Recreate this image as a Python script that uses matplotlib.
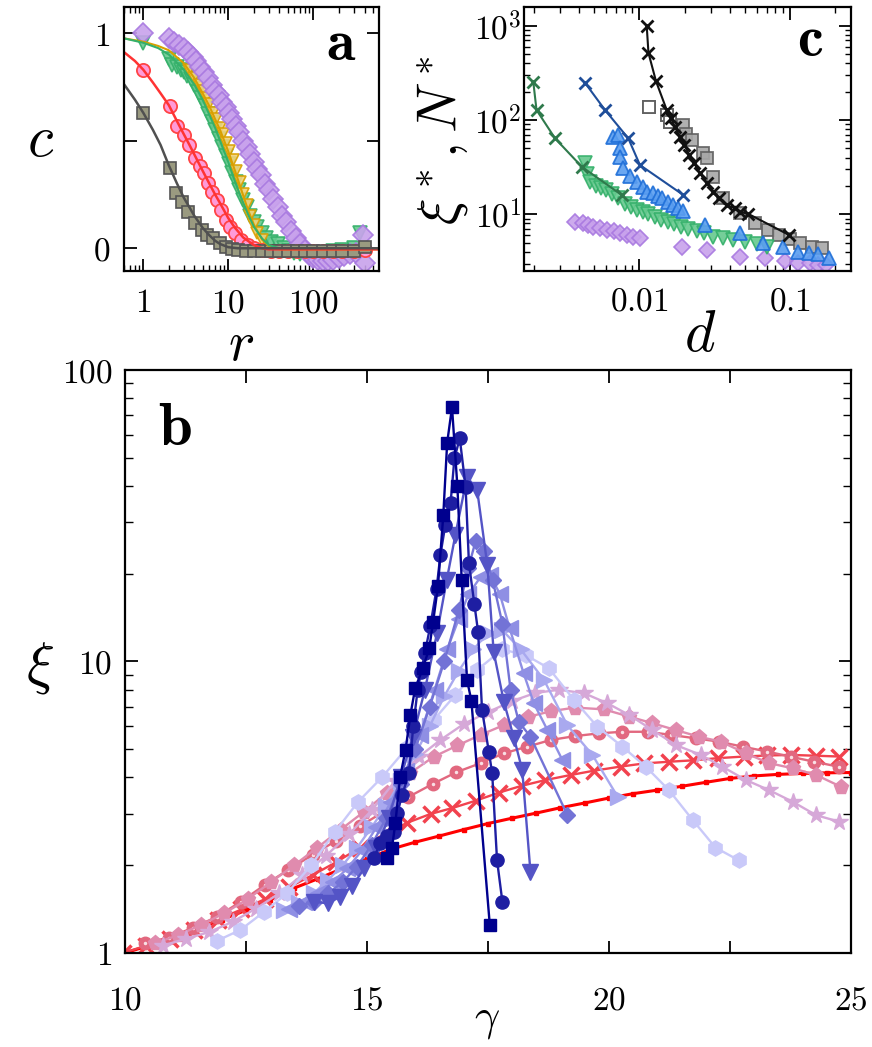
import matplotlib
matplotlib.use('Agg')
import matplotlib.pyplot as plt
from matplotlib.ticker import NullFormatter, LogLocator

plt.rcParams['mathtext.fontset'] = 'cm'
plt.rcParams['font.family'] = ['DejaVu Serif']

# ---------------- Panel a data ----------------
a_sq_r = [1, 2.06, 2.4, 2.88, 3.39, 4.07, 4.86, 5.57, 6.66, 7.96, 9.5, 11, 13, 16, 20, 25, 32, 40, 50, 65, 80, 100, 130, 170, 220, 300, 400]
a_sq_c = [0.628, 0.372, 0.256, 0.217, 0.17, 0.116, 0.085, 0.062, 0.046, 0.023, 0.007, -0.005, -0.01, -0.012, -0.012, -0.012, -0.012, -0.012, -0.012, -0.012, -0.012, -0.012, -0.012, -0.012, -0.012, -0.012, 0.007]
a_sqfit_r = [0.6, 0.8, 1, 1.3, 1.6, 2, 2.5, 3, 3.5, 4, 5, 6, 7, 8, 10, 13, 20, 50, 600]
a_sqfit_c = [0.76, 0.69, 0.63, 0.55, 0.48, 0.385, 0.3, 0.235, 0.19, 0.15, 0.095, 0.06, 0.035, 0.02, 0.005, 0.0, 0.0, 0.0, 0.0]

a_ci_r = [1, 2.06, 2.47, 2.99, 3.47, 4.1, 4.6, 5.17, 5.8, 6.5, 7.3, 8.2, 9.5, 10.5, 12, 14, 17, 20, 25, 32, 40, 50, 65, 80, 100, 130, 170, 220, 300, 400]
a_ci_c = [0.829, 0.659, 0.566, 0.527, 0.48, 0.42, 0.38, 0.349, 0.302, 0.26, 0.225, 0.18, 0.132, 0.1, 0.07, 0.04, 0.015, 0.0, -0.01, -0.015, -0.015, -0.015, -0.015, -0.015, -0.015, -0.015, -0.015, -0.015, -0.015, -0.01]
a_cifit_r = [0.6, 0.8, 1, 1.3, 1.6, 2, 2.5, 3, 3.5, 4, 5, 6, 7, 8, 10, 12, 15, 20, 25, 30, 600]
a_cifit_c = [0.91, 0.87, 0.83, 0.77, 0.72, 0.665, 0.59, 0.53, 0.48, 0.435, 0.36, 0.3, 0.25, 0.21, 0.14, 0.095, 0.05, 0.015, 0.0, -0.005, -0.005]

a_gr_r = [1, 2.0, 2.2, 2.5, 2.8, 3.0, 3.3, 3.6, 4.0, 4.4, 4.8, 5.3, 5.8, 6.4, 7, 7.7, 8.5, 9.3, 10.2, 11.2, 12.3, 13.5, 15, 16.5, 18, 20, 22, 25, 28, 32, 38, 45, 52, 60, 70, 85, 100, 130, 170, 220, 300, 354]
a_gr_c = [0.955, 0.88, 0.853, 0.84, 0.83, 0.82, 0.8, 0.785, 0.76, 0.725, 0.7, 0.66, 0.625, 0.585, 0.55, 0.51, 0.47, 0.43, 0.39, 0.35, 0.31, 0.27, 0.225, 0.19, 0.15, 0.12, 0.1, 0.07, 0.05, 0.03, 0.02, 0.0, -0.015, -0.023, -0.025, -0.025, -0.025, -0.02, -0.015, -0.01, 0.0, 0.07]
a_grfit_r = [0.6, 1, 1.5, 2, 3, 4, 5, 6, 7, 8, 10, 12, 14, 17, 20, 25, 30, 40, 600]
a_grfit_c = [0.975, 0.955, 0.93, 0.9, 0.83, 0.76, 0.69, 0.62, 0.56, 0.5, 0.4, 0.31, 0.24, 0.16, 0.1, 0.045, 0.015, 0.0, 0.0]

a_go_r = [3.5, 4, 4.5, 5, 5.5, 6, 6.6, 7.2, 7.9, 8.6, 9.4, 10.3, 11.3, 12.4, 13.6, 15, 16.5, 18, 20, 22, 25]
a_go_c = [0.83, 0.79, 0.76, 0.73, 0.7, 0.67, 0.63, 0.6, 0.56, 0.53, 0.49, 0.45, 0.41, 0.36, 0.31, 0.25, 0.2, 0.15, 0.11, 0.07, 0.04]
a_gofit_r = [0.6, 1, 1.5, 2, 3, 4, 5, 6, 7, 8, 10, 12, 14, 17, 20, 25, 30, 40, 600]
a_gofit_c = [0.975, 0.96, 0.94, 0.92, 0.86, 0.79, 0.72, 0.66, 0.6, 0.55, 0.45, 0.36, 0.28, 0.18, 0.11, 0.04, 0.01, -0.005, -0.005]

a_pu_r = [1, 2, 2.3, 2.6, 3, 3.4, 3.8, 4.2, 4.7, 5.2, 5.8, 6.4, 7, 7.7, 8.5, 9.3, 10.2, 11.2, 12.3, 13.5, 15, 16.5, 18, 20, 22, 24, 27, 30, 34, 38, 43, 48, 55, 62, 70, 80, 90, 100, 115, 130, 150, 170, 200, 230, 270, 320, 380, 400]
a_pu_c = [1.0, 0.975, 0.96, 0.945, 0.93, 0.91, 0.89, 0.87, 0.84, 0.82, 0.79, 0.76, 0.73, 0.71, 0.68, 0.655, 0.63, 0.6, 0.57, 0.54, 0.5, 0.47, 0.44, 0.4, 0.37, 0.34, 0.3, 0.27, 0.23, 0.19, 0.15, 0.12, 0.08, 0.05, 0.02, -0.01, -0.03, -0.045, -0.055, -0.06, -0.06, -0.055, -0.045, -0.035, -0.025, -0.02, 0.06, -0.07]

# ---------------- Panel c data ----------------
c_bx_d = [0.0112, 0.0115, 0.0129, 0.0152, 0.0162, 0.0172, 0.0186, 0.0199, 0.0215, 0.0231, 0.0253, 0.028, 0.031, 0.034, 0.0379, 0.0431, 0.0466, 0.0528, 0.0985]
c_bx_y = [993, 517, 259, 128, 105, 85, 66.5, 54.4, 42.6, 34.8, 27.2, 21.3, 17.4, 14.8, 12.5, 11.6, 10.6, 10.1, 6.03]
c_sq_d = [0.01165, 0.0152, 0.0160, 0.0196, 0.0205, 0.0222, 0.0265, 0.028, 0.031, 0.0359, 0.0466, 0.0584, 0.0718, 0.085, 0.1, 0.1169, 0.139, 0.162]
c_sq_y = [138, 113, 95, 88.5, 72, 61.6, 44.3, 40, 25.1, 14.8, 10.2, 8.04, 6.81, 6.0, 5.4, 4.93, 4.53, 4.36]
c_blx_d = [0.00436, 0.00592, 0.00845, 0.0101, 0.0196]
c_blx_y = [249, 128, 64, 33.3, 16.0]
c_tri_d = [0.00672, 0.00726, 0.00745, 0.00745, 0.0078, 0.00868, 0.0096, 0.0105, 0.0112, 0.0124, 0.0133, 0.0141, 0.0156, 0.0168, 0.0181, 0.0196, 0.0273, 0.0466, 0.0662, 0.09, 0.113, 0.133, 0.153, 0.18]
c_tri_y = [66.6, 69.5, 50, 40.8, 30.8, 25.6, 22.2, 19.5, 17.4, 16.7, 15.5, 14.8, 13.6, 12.5, 11.6, 10.9, 7.7, 6.3, 4.9, 4.53, 4.0, 3.85, 3.74, 3.42]
c_gx_d = [0.00198, 0.00208, 0.00276, 0.00415, 0.00764]
c_gx_y = [255, 128, 64, 32, 16]
c_gv_d = [0.00436, 0.0045, 0.00471, 0.0052, 0.0056, 0.006, 0.0066, 0.0072, 0.008, 0.0088, 0.0096, 0.0105, 0.0115, 0.0127, 0.014, 0.0155, 0.017, 0.019, 0.021, 0.024, 0.027, 0.031, 0.036, 0.042, 0.05, 0.06, 0.07]
c_gv_y = [34.7, 27, 22.2, 20, 19, 18, 16.5, 15, 13, 12, 11.2, 10.6, 10, 9.4, 8.6, 8.2, 7.9, 7.3, 7.0, 6.6, 6.3, 5.8, 5.56, 5.3, 5.1, 4.8, 4.53]
c_pd_d = [0.00374, 0.0042, 0.00455, 0.00495, 0.0055, 0.00607, 0.0068, 0.00745, 0.0083, 0.00913, 0.0101, 0.0191, 0.028, 0.0466, 0.068, 0.093, 0.113, 0.135, 0.153, 0.174]
c_pd_y = [8.35, 8.0, 7.7, 7.39, 7.1, 6.8, 6.6, 6.3, 6.0, 5.8, 5.55, 4.53, 4.19, 3.55, 3.41, 3.16, 3.03, 3.03, 2.9, 2.9]

# ---------------- Panel b data ----------------
b_line_g = [10, 10.5, 11, 11.5, 12, 12.5, 13, 13.5, 14, 14.5, 15, 15.5, 16, 16.5, 17, 17.5, 18, 18.5, 19, 19.5, 20, 20.5, 21, 21.5, 22, 22.5, 23, 23.5, 24, 24.5, 25]
b_line_x = [1.0, 1.06, 1.13, 1.21, 1.3, 1.4, 1.52, 1.67, 1.8, 1.95, 2.1, 2.27, 2.4, 2.52, 2.65, 2.78, 2.9, 3.02, 3.15, 3.27, 3.4, 3.52, 3.62, 3.73, 3.85, 3.97, 4.05, 4.1, 4.13, 4.15, 4.16]
b_x_g = [9.96, 10.45, 10.94, 11.43, 11.92, 12.41, 12.9, 13.39, 13.88, 14.37, 14.86, 15.35, 15.84, 16.32, 16.76, 17.25, 17.73, 18.21, 18.69, 19.21, 19.69, 20.24, 20.73, 21.24, 21.73, 22.25, 22.79, 23.27, 23.76, 24.28, 24.76]
b_x_x = [1.0, 1.06, 1.12, 1.2, 1.3, 1.41, 1.53, 1.68, 1.85, 2.05, 2.3, 2.55, 2.8, 3.0, 3.14, 3.33, 3.55, 3.75, 3.92, 4.08, 4.22, 4.36, 4.47, 4.53, 4.58, 4.66, 4.72, 4.76, 4.78, 4.75, 4.72]
b_cd_g = [10.42, 10.91, 11.41, 11.9, 12.4, 12.89, 13.38, 13.88, 14.37, 14.87, 15.36, 15.86, 16.36, 16.85, 17.35, 17.83, 18.31, 18.8, 19.31, 19.8, 20.28, 20.8, 21.28, 21.79, 22.27, 22.77, 23.27, 23.76, 24.24, 24.76]
b_cd_x = [1.08, 1.13, 1.22, 1.33, 1.5, 1.71, 1.93, 2.17, 2.43, 2.73, 3.06, 3.43, 3.8, 4.17, 4.48, 4.84, 5.1, 5.38, 5.55, 5.67, 5.74, 5.74, 5.6, 5.45, 5.31, 5.1, 4.91, 4.71, 4.53, 4.35]
b_pe_g = [10.62, 11.1, 11.58, 12.06, 12.54, 13.02, 13.5, 13.98, 14.46, 14.94, 15.42, 15.9, 16.38, 16.87, 17.35, 17.83, 18.32, 18.8, 19.3, 19.9, 20.42, 20.9, 21.38, 21.86, 22.31, 22.83, 23.31, 23.8, 24.28, 24.79]
b_pe_x = [1.08, 1.15, 1.25, 1.37, 1.53, 1.75, 2.0, 2.3, 2.65, 3.05, 3.55, 4.15, 4.71, 5.15, 5.6, 6.05, 6.45, 6.75, 6.95, 6.85, 6.47, 6.14, 5.82, 5.52, 5.31, 4.84, 4.48, 4.3, 4.08, 3.72]
b_st_g = [10.79, 11.27, 11.75, 12.23, 12.71, 13.19, 13.67, 14.15, 14.63, 15.11, 15.59, 16.07, 16.52, 17.0, 17.5, 17.99, 18.48, 18.97, 19.49, 19.97, 20.42, 20.9, 21.38, 21.9, 22.34, 22.83, 23.31, 23.8, 24.28, 24.76]
b_st_x = [1.06, 1.12, 1.18, 1.28, 1.42, 1.6, 1.85, 2.15, 2.55, 3.1, 3.9, 4.7, 5.38, 6.1, 6.7, 7.3, 7.8, 8.0, 7.78, 7.19, 6.55, 5.82, 5.17, 4.78, 4.36, 3.92, 3.62, 3.3, 2.97, 2.82]
b_hx_g = [11.9, 12.39, 12.87, 13.35, 13.85, 14.34, 14.82, 15.31, 15.85, 16.38, 16.83, 17.28, 17.8, 18.29, 18.76, 19.28, 19.76, 20.28, 20.76, 21.24, 21.73, 22.2, 22.68]
b_hx_x = [1.1, 1.2, 1.38, 1.6, 2.0, 2.6, 3.3, 4.0, 5.1, 6.3, 7.68, 9.35, 11.0, 10.5, 9.48, 7.38, 5.98, 5.1, 4.36, 3.62, 2.86, 2.3, 2.08]
b_rt_g = [13.3, 13.6, 13.9, 14.2, 14.5, 14.8, 15.1, 15.4, 15.7, 16.0, 16.3, 16.6, 16.9, 17.2, 17.5, 17.8, 18.18, 18.66, 19.14, 19.66, 20.18]
b_rt_x = [1.4, 1.48, 1.6, 1.78, 2.0, 2.3, 2.7, 3.2, 3.9, 4.8, 6.0, 7.6, 9.3, 11.0, 12.5, 12.8, 11.0, 8.64, 6.05, 4.78, 3.44]
b_lt_g = [13.4, 13.7, 14.0, 14.3, 14.6, 14.9, 15.2, 15.5, 15.8, 16.1, 16.4, 16.66, 16.9, 17.1, 17.35, 17.55, 17.75, 17.95, 18.24, 18.45, 18.73, 19.04]
b_lt_x = [1.42, 1.5, 1.6, 1.75, 1.95, 2.25, 2.7, 3.3, 4.2, 5.6, 8.0, 11.0, 14.0, 17.0, 19.5, 19.8, 17.0, 13.0, 9.1, 7.19, 5.82, 4.59]
b_di_g = [13.6, 13.9, 14.2, 14.5, 14.8, 15.1, 15.4, 15.7, 16.0, 16.3, 16.6, 16.9, 17.1, 17.25, 17.42, 17.6, 17.8, 17.97, 18.14, 18.38, 19.14]
b_di_x = [1.45, 1.5, 1.6, 1.75, 1.98, 2.35, 2.9, 3.8, 5.0, 7.0, 10.0, 15.0, 21.0, 26.0, 24.0, 19.0, 13.5, 7.98, 6.21, 5.52, 2.98]
b_dv_g = [13.9, 14.2, 14.45, 14.7, 14.95, 15.2, 15.45, 15.7, 15.95, 16.2, 16.45, 16.65, 16.83, 17.07, 17.28, 17.49, 17.62, 17.83, 18.04, 18.21, 18.38]
b_dv_x = [1.5, 1.48, 1.56, 1.7, 1.95, 2.3, 2.9, 4.0, 5.5, 8.0, 12.5, 19.0, 27.2, 43.0, 38.7, 21.4, 10.8, 7.28, 5.46, 4.25, 1.9]
b_ci_g = [15.14, 15.28, 15.42, 15.56, 15.63, 15.73, 15.87, 15.96, 16.05, 16.12, 16.2, 16.31, 16.44, 16.52, 16.62, 16.73, 16.81, 16.92, 17.04, 17.11, 17.22, 17.3, 17.38, 17.52, 17.59, 17.69, 17.8]
b_ci_x = [2.11, 2.38, 2.51, 2.61, 3.02, 3.48, 4.13, 6.0, 8.0, 9.2, 10.7, 13.2, 17.7, 23.2, 29.3, 34.9, 49.8, 58.3, 39.8, 21.7, 15.8, 12.6, 6.82, 4.91, 4.13, 2.08, 1.5]
b_sq_g = [15.42, 15.52, 15.59, 15.69, 15.8, 15.9, 16.0, 16.16, 16.29, 16.37, 16.47, 16.58, 16.66, 16.76, 16.87, 16.96, 17.07, 17.16, 17.54]
b_sq_x = [2.11, 2.29, 2.79, 4.03, 4.97, 6.55, 8.11, 9.5, 11.1, 13.7, 18.1, 31.8, 56.3, 74.5, 40.1, 19.1, 8.64, 7.34, 1.25]


def style(ax, major=8, minor=4, xpad=8, ypad=8, size=24):
    ax.tick_params(which='both', direction='in', top=True, right=True)
    ax.tick_params(which='major', length=major, width=1.3, labelsize=size)
    ax.tick_params(which='minor', length=minor, width=1.0)
    ax.tick_params(axis='x', which='major', pad=xpad)
    ax.tick_params(axis='y', which='major', pad=ypad)
    for s in ax.spines.values():
        s.set_linewidth(1.6)


fig = plt.figure(figsize=(8.72, 10.47), dpi=100)

# ================= Panel a =================
axa = fig.add_axes([0.1426, 0.7415, 0.2921, 0.2516])
axa.set_xscale('log')
ms_a = 9
axa.plot(a_gr_r, a_gr_c, ls='none', marker='v', ms=ms_a + 1, mfc='#66c98e', mec='#34b06a', mew=1.2, alpha=0.9)
axa.plot(a_go_r, a_go_c, ls='none', marker='v', ms=ms_a - 1, mfc='#f2d27a', mec='#d9a000', mew=1.2, alpha=0.9)
axa.plot(a_pu_r, a_pu_c, ls='none', marker='D', ms=ms_a + 1, mfc='#c8a2ec', mec='#a878e0', mew=1.2, alpha=0.9)
axa.plot(a_ci_r, a_ci_c, ls='none', marker='o', ms=ms_a + 0.5, mfc='#ff9ad8', mec='#ff4444', mew=1.3)
axa.plot(a_sq_r, a_sq_c, ls='none', marker='s', ms=ms_a - 1, mfc='#9a9a80', mec='#555555', mew=1.2)
axa.plot(a_gofit_r, a_gofit_c, color='#d9a000', lw=1.5)
axa.plot(a_grfit_r, a_grfit_c, color='#34b06a', lw=1.5)
axa.plot(a_cifit_r, a_cifit_c, color='#ff3333', lw=1.8)
axa.plot(a_sqfit_r, a_sqfit_c, color='#505050', lw=1.8)
axa.set_xlim(0.6, 593)
axa.set_ylim(-0.104, 1.12)
axa.set_xticks([1, 10, 100], ['$1$', '$10$', '$100$'])
axa.set_yticks([0, 0.5, 1], ['$0$', '', '$1$'])
axa.xaxis.set_minor_formatter(NullFormatter())
style(axa, major=9, minor=4, xpad=12, ypad=10)
axa.text(0.85, 0.80, r'$\mathbf{a}$', transform=axa.transAxes, fontsize=42, ha='center', va='baseline')

# ================= Panel c =================
axc = fig.add_axes([0.601, 0.7415, 0.375, 0.2516])
axc.set_xscale('log')
axc.set_yscale('log')
ms_c = 9
axc.plot(c_sq_d, c_sq_y, ls='none', marker='s', ms=ms_c - 0.5, mfc='#a8a8a8', mec='#606060', mew=1.3, alpha=0.9)
axc.plot(c_sq_d[:3], c_sq_y[:3], ls='none', marker='s', ms=ms_c - 0.5, mfc='white', mec='#606060', mew=1.3)
axc.plot(c_pd_d, c_pd_y, ls='none', marker='D', ms=ms_c - 0.5, mfc='#c8a2ec', mec='#a878e0', mew=1.2, alpha=0.9)
axc.plot(c_gv_d, c_gv_y, ls='none', marker='v', ms=ms_c + 1, mfc='#66c98e', mec='#34b06a', mew=1.2, alpha=0.9)
axc.plot(c_tri_d, c_tri_y, ls='none', marker='^', ms=ms_c + 1, mfc='#5a9ef0', mec='#1f6fd8', mew=1.3, alpha=0.9)
axc.plot(c_gx_d, c_gx_y, color='#2f7a4c', lw=1.5, marker='x', ms=8, mew=2)
axc.plot(c_blx_d, c_blx_y, color='#1f4e9a', lw=1.5, marker='x', ms=8, mew=2)
axc.plot(c_bx_d, c_bx_y, color='#111111', lw=1.5, marker='x', ms=8, mew=2)
axc.set_xlim(0.00172, 0.254)
axc.set_ylim(2.52, 1578)
axc.set_xticks([0.01, 0.1], ['$0.01$', '$0.1$'])
axc.set_yticks([10, 100, 1000], ['$10^1$', '$10^2$', '$10^3$'])
axc.xaxis.set_minor_locator(LogLocator(base=10, subs=range(2, 10)))
axc.yaxis.set_minor_locator(LogLocator(base=10, subs=range(2, 10)))
axc.xaxis.set_minor_formatter(NullFormatter())
axc.yaxis.set_minor_formatter(NullFormatter())
style(axc, major=9, minor=4, xpad=11, ypad=2)
axc.text(0.875, 0.815, r'$\mathbf{c}$', transform=axc.transAxes, fontsize=42, ha='center', va='baseline')

# ================= Panel b =================
axb = fig.add_axes([0.143, 0.0898, 0.8329, 0.5568])
axb.set_yscale('log')
lw = 1.7
axb.plot(b_line_g, b_line_x, color='#ff0000', lw=2.2, marker='s', ms=2.2)
axb.plot(b_x_g, b_x_x, color='#f2424e', lw=lw, marker='x', ms=12, mew=2.5)
axb.plot(b_cd_g, b_cd_x, color='#e2687f', lw=lw, marker='o', ms=9)
axb.plot(b_cd_g, b_cd_x, ls='none', marker='o', ms=2.5, mfc='white', mec='none', alpha=0.8)
axb.plot(b_pe_g, b_pe_x, color='#e08bae', lw=lw, marker='p', ms=11)
axb.plot(b_st_g, b_st_x, color='#d6a8d8', lw=lw, marker='*', ms=13)
axb.plot(b_hx_g, b_hx_x, color='#c9c9f9', lw=lw, marker='h', ms=11)
axb.plot(b_rt_g, b_rt_x, color='#a9a9ef', lw=lw, marker='>', ms=11)
axb.plot(b_lt_g, b_lt_x, color='#8f8fe4', lw=lw, marker='<', ms=11)
axb.plot(b_di_g, b_di_x, color='#7373d6', lw=lw, marker='D', ms=8)
axb.plot(b_dv_g, b_dv_x, color='#5454c6', lw=lw, marker='v', ms=11)
axb.plot(b_ci_g, b_ci_x, color='#1e1ea2', lw=lw, marker='o', ms=9.5)
axb.plot(b_sq_g, b_sq_x, color='#00008e', lw=lw, marker='s', ms=8)
axb.set_xlim(10, 25)
axb.set_ylim(1, 100)
axb.set_xticks([10, 12.5, 15, 17.5, 20, 22.5, 25], ['$10$', '', '$15$', '', '$20$', '', '$25$'])
axb.set_yticks([1, 10, 100], ['$1$', '$10$', '$100$'])
axb.yaxis.set_minor_locator(LogLocator(base=10, subs=range(2, 10)))
axb.yaxis.set_minor_formatter(NullFormatter())
style(axb, major=9, minor=6, xpad=23, ypad=9)
axb.text(0.069, 0.871, r'$\mathbf{b}$', transform=axb.transAxes, fontsize=44, ha='center', va='baseline')

# ================= Axis labels =================
fig.text(0.046, 0.866, r'$c$', fontsize=42, ha='center', va='center')
fig.text(0.276, 0.671, r'$r$', fontsize=40, ha='center', va='center')
fig.text(0.803, 0.680, r'$d$', fontsize=42, ha='center', va='center')
fig.text(0.507, 0.866, r'$\xi^*, N^*$', fontsize=40, ha='center', va='center', rotation=90)
fig.text(0.046, 0.362, r'$\xi$', fontsize=42, ha='center', va='center')
fig.text(0.558, 0.026, r'$\gamma$', fontsize=32, ha='center', va='center')

fig.savefig('out.png', dpi=100)
